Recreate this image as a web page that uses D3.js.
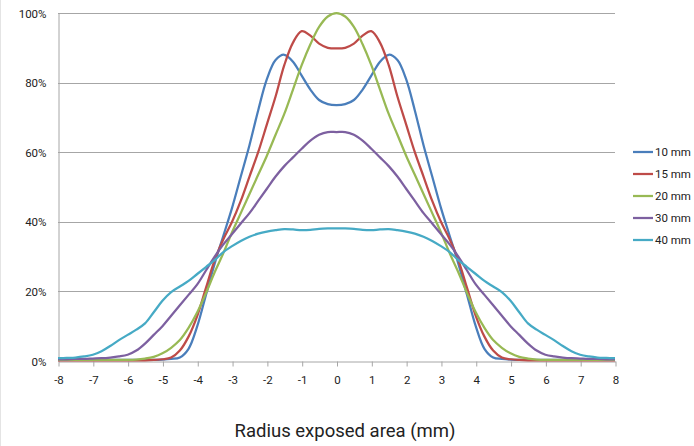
<!DOCTYPE html>
<html><head><meta charset="utf-8">
<script src="https://cdn.jsdelivr.net/npm/d3@7"></script>
<style>body{margin:0;background:#fff}svg{display:block}</style>
</head><body>
<svg id="c" width="694" height="446"></svg>
<script>
const radius = [-8,-7.75,-7.5,-7.25,-7,-6.75,-6.5,-6.25,-6,-5.75,-5.5,-5.25,-5,-4.75,-4.5,-4.25,-4,-3.75,-3.5,-3.25,-3,-2.75,-2.5,-2.25,-2,-1.75,-1.5,-1.25,-1,-0.75,-0.5,-0.25,0,
0.25,0.5,0.75,1,1.25,1.5,1.75,2,2.25,2.5,2.75,3,3.25,3.5,3.75,4,4.25,4.5,4.75,5,5.25,5.5,5.75,6,6.25,6.5,6.75,7,7.25,7.5,7.75,8];
const s10 = [0.3,0.3,0.3,0.3,0.3,0.3,0.3,0.3,0.3,0.3,0.3,0.3,0.4,0.6,1,3.5,10,19,28,36,44,53,62,72,81,86.5,88,86,82,78,75,73.8,73.5,
73.8,75,78,82,86,88,86.5,81,72,62,53,44,36,28,19,10,3.5,1,0.6,0.4,0.3,0.3,0.3,0.3,0.3,0.3,0.3,0.3,0.3,0.3,0.3,0.3];
const s15 = [0.2,0.2,0.2,0.2,0.2,0.2,0.2,0.2,0.2,0.2,0.2,0.3,0.5,1,3,7,13,21,29,35,40,46,53,60,68,76,85,91.5,94.8,93.5,91.2,90,89.8,
90,91.2,93.5,94.8,91.5,85,76,68,60,53,46,40,35,29,21,13,7,3,1,0.5,0.3,0.2,0.2,0.2,0.2,0.2,0.2,0.2,0.2,0.2,0.2,0.2];
const s20 = [0.3,0.3,0.3,0.3,0.3,0.3,0.3,0.3,0.3,0.4,0.7,1.2,2.2,3.8,6,9.5,14,19.5,25.5,31,37,42.5,48,53.5,59,65,71,78,85,91,96,99,100,
99,96,91,85,78,71,65,59,53.5,48,42.5,37,31,25.5,19.5,14,9.5,6,3.8,2.2,1.2,0.7,0.4,0.3,0.3,0.3,0.3,0.3,0.3,0.3,0.3,0.3];
const s30 = [0.5,0.5,0.6,0.6,0.7,0.8,1,1.3,1.8,3,5,7.5,10,13,16,19,22,26,30,33.5,36.5,39.5,42.5,46,49.5,53,56,58.5,61,63.3,65,65.8,65.8,
65.8,65,63.3,61,58.5,56,53,49.5,46,42.5,39.5,36.5,33.5,30,26,22,19,16,13,10,7.5,5,3,1.8,1.3,1,0.8,0.7,0.6,0.6,0.5,0.5];
const s40 = [0.8,0.9,1,1.3,1.8,2.8,4.3,6,7.5,9,10.8,14,17.3,19.8,21.4,23,25,27,29,31.3,33,34.5,35.7,36.6,37.2,37.6,37.9,37.8,37.6,37.7,38,38.1,38.1,
38.1,38,37.7,37.6,37.8,37.9,37.6,37.2,36.6,35.7,34.5,33,31.3,29,27,25,23,21.4,19.8,17.3,14,10.8,9,7.5,6,4.3,2.8,1.8,1.3,1,0.9,0.8];
const seriesNames = ["10 mm","15 mm","20 mm","30 mm","40 mm"];
const seriesColors = ["#4A7EBB","#BE4B48","#98B954","#7D60A0","#46AAC5"];
const xTicks = [-8,-7,-6,-5,-4,-3,-2,-1,0,1,2,3,4,5,6,7,8];
const yTicks = [0,20,40,60,80,100];
const xTitle = "Radius exposed area (mm)";

const allSeries = [s10,s15,s20,s30,s40];
const svg = d3.select("#c");
const L=58,R=615,T=13,B=361;
const x = d3.scaleLinear().domain([-8,8]).range([L,R]);
const y = d3.scaleLinear().domain([0,100]).range([B,T]);

svg.append("line").attr("x1",0.5).attr("x2",0.5).attr("y1",0).attr("y2",446).attr("stroke","#e4e4e4");

// gridlines
svg.append("g").selectAll("line").data(yTicks.filter(d=>d>0)).join("line")
  .attr("x1",L).attr("x2",R).attr("y1",d=>Math.round(y(d))+0.5).attr("y2",d=>Math.round(y(d))+0.5)
  .attr("stroke","#a6a6a6").attr("stroke-width",1);

// y axis
const ya = svg.append("g").attr("transform",`translate(${L+0.5},0.5)`)
  .call(d3.axisLeft(y).tickValues(yTicks).tickFormat(d=>d+"%").tickSize(0).tickPadding(12));
ya.select(".domain").attr("stroke","#a6a6a6");
ya.selectAll("text").attr("font-family","Roboto, sans-serif").attr("font-size",11.5).attr("fill","#222");

// x axis
const xa = svg.append("g").attr("transform",`translate(0.5,${B+0.5})`)
  .call(d3.axisBottom(x).tickValues(xTicks).tickFormat(d=>d).tickSize(5).tickSizeOuter(0).tickPadding(9));
xa.select(".domain").attr("stroke","#a6a6a6");
xa.selectAll(".tick line").attr("stroke","#a6a6a6");
xa.selectAll("text").attr("font-family","Roboto, sans-serif").attr("font-size",11.5).attr("fill","#222");

svg.append("text").attr("x",345).attr("y",437).attr("text-anchor","middle")
  .attr("font-family","Roboto, sans-serif").attr("font-size",18.5).attr("fill","#222").text(xTitle);

const line = d3.line().x((d,i)=>x(radius[i])).y(d=>y(d)).curve(d3.curveCatmullRom.alpha(0.5));
allSeries.forEach((s,k)=>{
  svg.append("path").datum(s).attr("d",line).attr("fill","none")
    .attr("stroke",seriesColors[k]).attr("stroke-width",2.25).attr("stroke-linejoin","round");
});

// legend
const lg = svg.append("g");
seriesNames.forEach((n,k)=>{
  const yy = 152 + k*22;
  lg.append("line").attr("x1",633).attr("x2",653).attr("y1",yy).attr("y2",yy)
    .attr("stroke",seriesColors[k]).attr("stroke-width",2.25);
  lg.append("text").attr("x",655).attr("y",yy+4).attr("font-family","Roboto, sans-serif")
    .attr("font-size",11.5).attr("fill","#222").text(n);
});
</script>
</body></html>
